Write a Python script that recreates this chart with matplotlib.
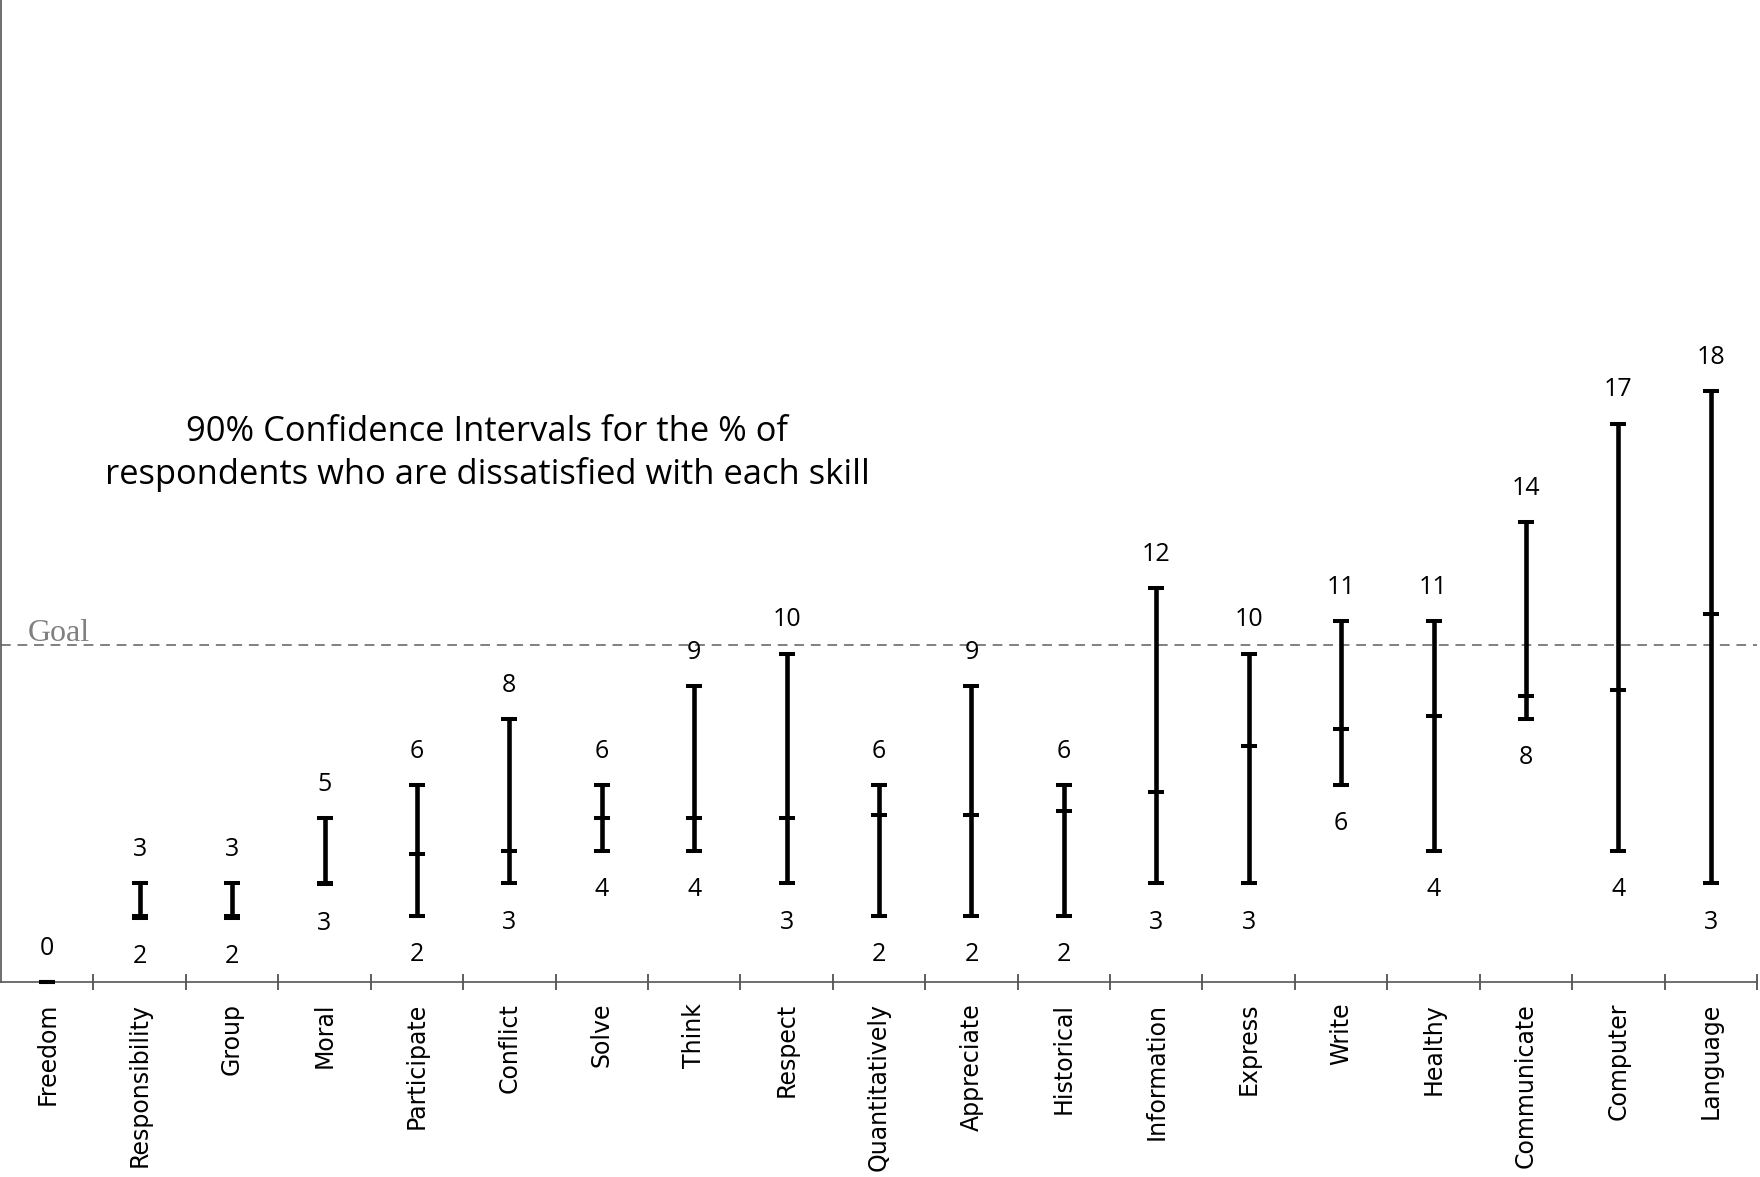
import numpy as np
import matplotlib.pyplot as plt
from matplotlib.ticker import FixedLocator

skills = ["Freedom", "Responsibility", "Group", "Moral", "Participate",
          "Conflict", "Solve", "Think", "Respect", "Quantitatively",
          "Appreciate", "Historical", "Information", "Express", "Write",
          "Healthy", "Communicate", "Computer", "Language"]
# % dissatisfied: lower bound, point estimate, upper bound of the 90% CI
low = [0, 1.95, 1.95, 2.97, 2.0, 3.0, 4.0, 4.0, 3.0, 2.0,
       2.0, 2.0, 3.0, 3.0, 6.0, 4.0, 8.0, 4.0, 3.0]
est = [0, 2.0, 2.0, 3.0, 3.9, 4.0, 5.0, 5.0, 5.0, 5.1,
       5.1, 5.2, 5.8, 7.2, 7.7, 8.1, 8.7, 8.9, 11.2]
high = [0, 3.0, 3.0, 5.0, 6.0, 8.0, 6.0, 9.0, 10.0, 6.0,
        9.0, 6.0, 12.0, 10.0, 11.0, 11.0, 14.0, 17.0, 18.0]
goal = 10.25

num_font = "Open Sans"

fig = plt.figure(figsize=(17.6, 11.77), dpi=100)
ax = fig.add_axes([0.0006, 1 - 982 / 1177, 1757 / 1760 - 0.0006, 982 / 1177])

x = np.arange(len(skills))
low_a, est_a, high_a = np.array(low), np.array(est), np.array(high)

# capsize is half the cap width in matplotlib
ax.errorbar(x, est_a, yerr=[est_a - low_a, high_a - est_a], fmt="none",
            ecolor="black", elinewidth=3.3, capsize=5.9, capthick=2.9,
            clip_on=False, zorder=3)
ax.plot(x, est_a, linestyle="none", marker="_", ms=11.8, mew=2.9,
        color="black", clip_on=False, zorder=3)

# value labels above and below each interval
for xi, lo, hi in zip(x, low, high):
    ax.annotate(f"{round(hi)}", (xi, hi), xytext=(0, 19.6),
                textcoords="offset points", ha="center", va="baseline",
                fontsize=18, family=num_font)
    if hi != lo:
        ax.annotate(f"{round(lo)}", (xi, lo), xytext=(0, -32.5),
                    textcoords="offset points", ha="center", va="baseline",
                    fontsize=18, family=num_font)

# goal line
ax.axhline(goal, color="#808080", lw=1.4, ls=(0, (5, 3.5)), zorder=1)
ax.annotate("Goal", (-0.21, goal), xytext=(0, 3), textcoords="offset points",
            ha="left", va="baseline", fontsize=23, color="#808080",
            family="Liberation Serif")

ax.text(4.76, 16.1,
        "90% Confidence Intervals for the % of\n"
        "respondents who are dissatisfied with each skill",
        ha="center", va="center", multialignment="center",
        fontsize=24.8, family="Open Sans", linespacing=1.3)

ax.set_xlim(-0.5, len(skills) - 0.5)
ax.set_ylim(0, 29.9)

ax.set_xticks(x)
ax.set_xticklabels(skills, rotation=90, fontsize=17, family="DejaVu Sans")
ax.xaxis.set_minor_locator(FixedLocator(np.arange(0.5, len(skills), 1.0)))
ax.tick_params(axis="x", which="major", length=0, pad=15)
ax.tick_params(axis="x", which="minor", direction="inout", length=11,
               width=1.1, color="#333333")
ax.set_yticks([])

for side in ["top", "right"]:
    ax.spines[side].set_visible(False)
for side in ["left", "bottom"]:
    ax.spines[side].set_color("#555555")
    ax.spines[side].set_linewidth(1.2)

plt.savefig("out.png", dpi=100)
